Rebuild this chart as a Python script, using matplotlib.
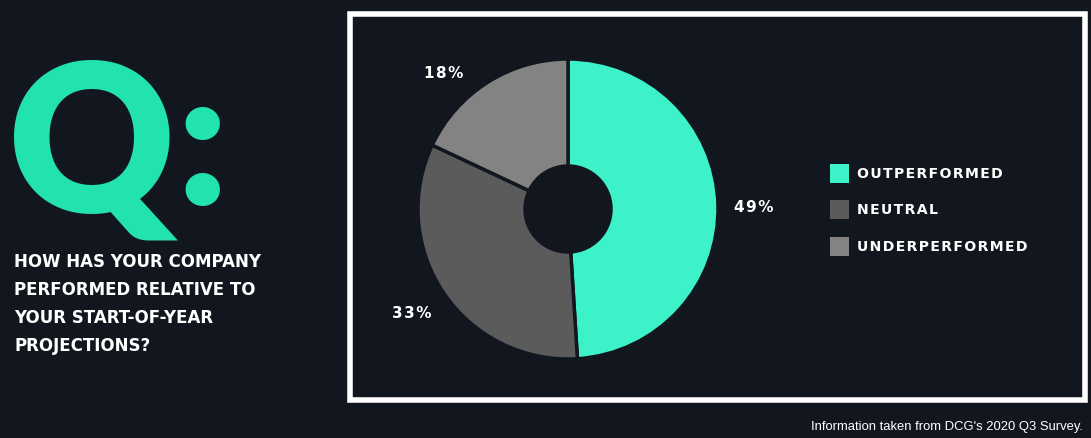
import matplotlib
matplotlib.use('Agg')
import matplotlib.pyplot as plt
from matplotlib.patches import Rectangle

# ============================================================
# DATA
# ============================================================
CATEGORIES = ["OUTPERFORMED", "NEUTRAL", "UNDERPERFORMED"]
SHARES = [49, 33, 18]
PCT_LABELS = ["49%", "33%", "18%"]

QUESTION = ["HOW HAS YOUR COMPANY", "PERFORMED RELATIVE TO",
            "YOUR START-OF-YEAR", "PROJECTIONS?"]
SOURCE = "Information taken from DCG's 2020 Q3 Survey."

# ============================================================
# STYLE
# ============================================================
W, H = 1091, 439
BG = '#12171f'
TEAL = '#3df2c8'
LOGO = '#22e3b0'
COLORS = [TEAL, '#5b5b5c', '#838383']
PCT_XY = [(754, 208), (412, 314), (444, 73)]   # label spots, px from top-left

plt.rcParams['font.family'] = ['DejaVu Sans']


def tracked(s, gap='\u200a'):
    # crude letter spacing
    return gap.join(s)


fig = plt.figure(figsize=(W / 100, H / 100), dpi=100, facecolor=BG)
ax = fig.add_axes([0, 0, 1, 1])
ax.axis('off')


def py(y):
    # pixel row (from top) -> data y
    return H - y


# white frame
ax.add_patch(Rectangle((350, py(400.5)), 735, 386, fill=False,
                       edgecolor='white', linewidth=4))

# donut
CX, CY, R = 568, py(210), 150
wedges, _ = ax.pie(SHARES, colors=COLORS, startangle=90, counterclock=False,
                   center=(CX, CY), radius=R,
                   wedgeprops={'width': R - 43, 'edgecolor': BG,
                               'linewidth': 2.5})
ax.set_xlim(0, W)
ax.set_ylim(0, H)
ax.set_aspect('equal')

for lab, (x, y) in zip(PCT_LABELS, PCT_XY):
    ax.text(x, py(y), tracked(lab), color='white', fontsize=11,
            fontweight='bold', ha='center', va='center')

# legend
for i, (lab, col) in enumerate(zip(CATEGORIES, COLORS)):
    y = 174 + i * 36.5
    ax.add_patch(Rectangle((830, py(y + 9.5)), 19, 19, facecolor=col,
                           edgecolor='none'))
    ax.text(857, py(y), tracked(lab), color='white', fontsize=10.1,
            fontweight='bold', va='center', ha='left')

# big "Q:" logo
ax.text(8.5, py(151), "Q", color=LOGO, fontsize=148, fontweight='heavy',
        family='Lato', va='center', ha='left')
ax.text(202, py(148), ":", color=LOGO, fontsize=140, fontweight='heavy',
        family='Lato', va='center', ha='center')

# question
for i, line in enumerate(QUESTION):
    ax.text(14, py(262 + i * 28), line, color='white', fontsize=12,
            fontweight='bold', va='center', ha='left')

# source
ax.text(1083, py(427), SOURCE, color='white', fontsize=9.35,
        family='Liberation Sans', va='center', ha='right')

fig.savefig('out.png', dpi=100, facecolor=BG)
plt.close(fig)
